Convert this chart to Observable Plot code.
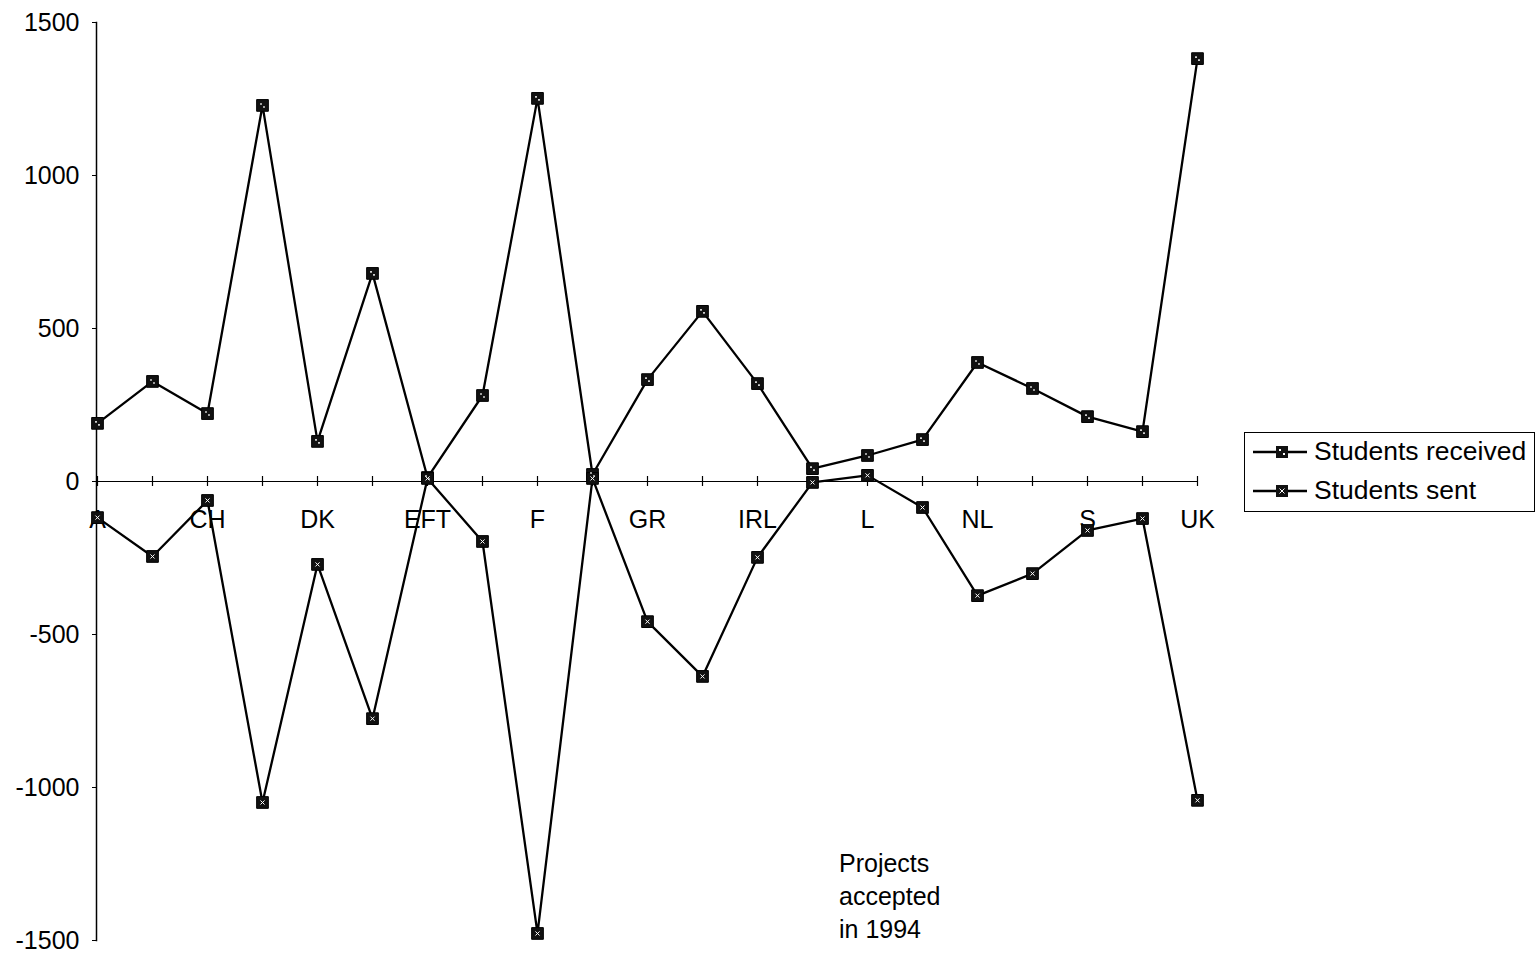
<!DOCTYPE html>
<html>
<head>
<meta charset="utf-8">
<script src="https://cdn.jsdelivr.net/npm/d3@7"></script>
<script src="https://cdn.jsdelivr.net/npm/@observablehq/plot@0.6"></script>
<style>
  html, body { margin: 0; padding: 0; background: #fff; }
  body { position: relative; width: 1538px; height: 953px; overflow: hidden; font-family: "Liberation Sans", Arial, sans-serif; }
  #legend { position: absolute; left: 1244px; top: 432px; width: 289px; height: 78px; border: 1.5px solid #000; background: #fff; }
  .row { position: absolute; left: 6px; display: flex; align-items: center; font-size: 26.5px; color: #000; }
  .row svg { margin-right: 7px; }
  #note { position: absolute; left: 839px; top: 847px; font-size: 25px; line-height: 33px; color: #000; }
</style>
</head>
<body>
<div id="chart"></div>
<div id="legend"></div>
<div id="note">Projects<br>accepted<br>in 1994</div>
<script>
const categories = ["A","B","CH","D","DK","E","EFT","EUR","F","FL","GR","I","IRL","IS","L","N","NL","P","S","SF","UK"];
const tickLabels = ["A","CH","DK","EFT","F","GR","IRL","L","NL","S","UK"];
const received = [190,327,222,1229,131,680,13,281,1252,23,333,556,320,42,85,137,389,304,212,163,1382];
const sent = [-118,-245,-62,-1049,-271,-775,10,-196,-1477,10,-458,-637,-248,-3,20,-85,-373,-301,-160,-121,-1042];
const yTicks = [-1500,-1000,-500,0,500,1000,1500];
const seriesNames = ["Students received","Students sent"];

const rows = [];
categories.forEach((c, i) => {
  rows.push({cat: c, value: received[i], series: seriesNames[0]});
  rows.push({cat: c, value: sent[i], series: seriesNames[1]});
});
const recRows = rows.filter(d => d.series === seriesNames[0]);
const sentRows = rows.filter(d => d.series === seriesNames[1]);

const chart = Plot.plot({
  width: 1538,
  height: 953,
  marginLeft: 96,
  marginRight: 340,
  marginTop: 22,
  marginBottom: 13,
  style: {fontFamily: "'Liberation Sans', Arial, sans-serif", fontSize: "25px", background: "#fff", color: "#000"},
  x: {type: "point", domain: categories, padding: 0, axis: null},
  y: {domain: [-1500, 1500], axis: null},
  marks: [
    Plot.frame({anchor: "left", stroke: "#000", strokeWidth: 1.5}),
    Plot.axisY({ticks: yTicks, tickSize: 4, tickPadding: 13, fontSize: 25, tickFormat: d => String(d), label: null, stroke: "#000"}),
    Plot.ruleY([0], {stroke: "#000", strokeWidth: 1.2}),
    Plot.ruleX(categories, {x: d => d, y1: 0, y2: 0, insetTop: -5, insetBottom: -5, stroke: "#000", strokeWidth: 1.2}),
    Plot.text(tickLabels, {x: d => d, y: 0, dy: 38, fontSize: 25, fill: "#000"}),
    Plot.line(recRows, {x: "cat", y: "value", stroke: "#000", strokeWidth: 2.3}),
    Plot.line(sentRows, {x: "cat", y: "value", stroke: "#000", strokeWidth: 2.3}),
    Plot.dot(rows, {x: "cat", y: "value", symbol: "square", r: 6.6, fill: "#111", stroke: "#000", strokeWidth: 1}),
    Plot.dot(recRows, {x: "cat", y: "value", symbol: "square", r: 0.9, fill: "#fff", stroke: "none", dx: -1.5, dy: -1.5}),
    Plot.dot(recRows, {x: "cat", y: "value", symbol: "square", r: 0.9, fill: "#fff", stroke: "none", dx: 1.5, dy: 1.5}),
    Plot.dot(sentRows, {x: "cat", y: "value", symbol: "times", r: 2, stroke: "#fff", strokeWidth: 1})
  ]
});
document.getElementById("chart").appendChild(chart);

// legend
const legend = document.getElementById("legend");
seriesNames.forEach((name, i) => {
  const row = document.createElement("div");
  row.className = "row";
  row.style.top = (i === 0 ? 3 : 42) + "px";
  const sw = i === 0
    ? '<rect x="25" y="6" width="12" height="12" fill="#111"/><rect x="28" y="9" width="2" height="2" fill="#fff"/><rect x="32" y="13" width="2" height="2" fill="#fff"/>'
    : '<rect x="25" y="6" width="12" height="12" fill="#111"/><path d="M28.5 9.5 L33.5 14.5 M33.5 9.5 L28.5 14.5" stroke="#fff" stroke-width="1"/>';
  row.innerHTML = '<svg width="56" height="24"><line x1="2" y1="12" x2="56" y2="12" stroke="#000" stroke-width="2.3"/>' + sw + '</svg><span>' + name + '</span>';
  legend.appendChild(row);
});
</script>
</body>
</html>
